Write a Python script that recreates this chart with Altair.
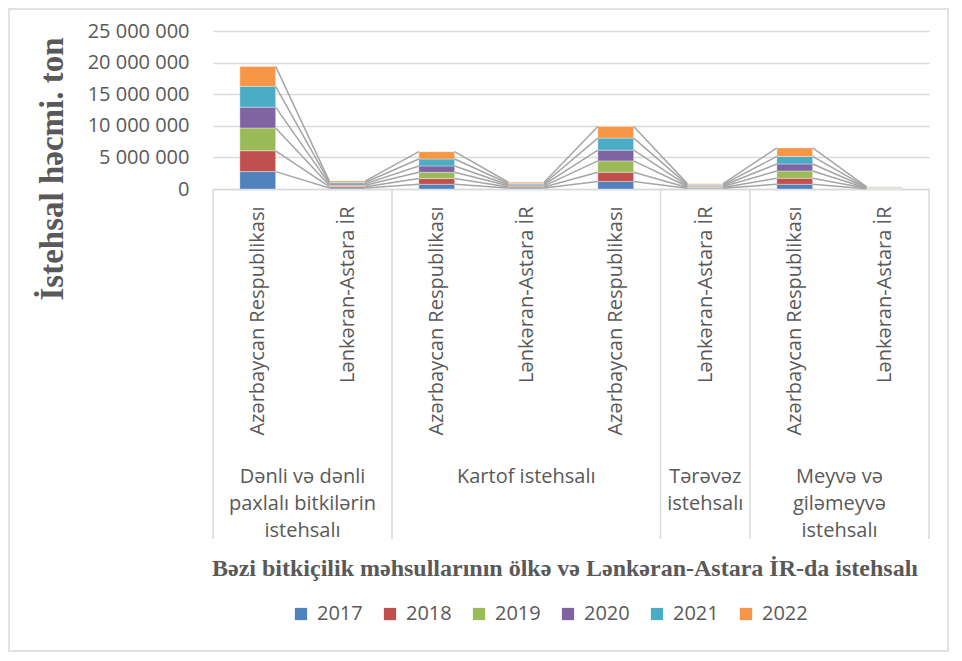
import json
import altair as alt
import pandas as pd

# ---------------- data ----------------
categories = [
    "Azərbaycan Respublikası", "Lənkəran-Astara İR",
    "Azərbaycan Respublikası", "Lənkəran-Astara İR", "Azərbaycan Respublikası",
    "Lənkəran-Astara İR",
    "Azərbaycan Respublikası", "Lənkəran-Astara İR",
]
group_names = [
    "Dənli və dənli\npaxlalı bitkilərin\nistehsalı",
    "Kartof istehsalı",
    "Tərəvəz\nistehsalı",
    "Meyvə və\ngiləmeyvə\nistehsalı",
]
group_of_cat = [0, 0, 1, 1, 1, 2, 3, 3]
years = ["2017", "2018", "2019", "2020", "2021", "2022"]

v2017 = [2750000, 170000, 750000, 150000, 1200000, 120000, 750000, 50000]
v2018 = [3300000, 200000, 900000, 170000, 1450000, 130000, 950000, 60000]
v2019 = [3600000, 220000, 1000000, 180000, 1800000, 150000, 1150000, 60000]
v2020 = [3300000, 220000, 1000000, 180000, 1700000, 150000, 1100000, 60000]
v2021 = [3300000, 220000, 1100000, 190000, 1900000, 150000, 1200000, 70000]
v2022 = [3150000, 220000, 1150000, 200000, 1850000, 150000, 1350000, 70000]
series = [v2017, v2018, v2019, v2020, v2021, v2022]

colors = ["#4F81BD", "#C0504D", "#9BBB59", "#8064A2", "#4BACC6", "#F79646"]
y_ticks = [0, 5000000, 10000000, 15000000, 20000000, 25000000]

TEXT = "#595959"
GRID = "#D9D9D9"
W, H = 716, 158
HALF = 0.2  # half bar width in category units

# ---------------- tables ----------------
rows = []
for i in range(len(categories)):
    cum = 0
    for k, y in enumerate(years):
        v = series[k][i]
        rows.append({"idx": i, "year": y, "order": k, "y0": cum, "y1": cum + v})
        cum += v
bars = pd.DataFrame(rows)

lines = []
for i in range(len(categories) - 1):
    for k, y in enumerate(years):
        a = bars[(bars.idx == i) & (bars.year == y)].y1.iloc[0]
        b = bars[(bars.idx == i + 1) & (bars.year == y)].y1.iloc[0]
        lines.append({"i": i, "j": i + 1, "year": y, "ya": a, "yb": b})
lines = pd.DataFrame(lines)

groups = []
for g, name in enumerate(group_names):
    members = [i for i, gg in enumerate(group_of_cat) if gg == g]
    groups.append({"name": name, "cx": sum(members) / len(members)})
groups = pd.DataFrame(groups)

bounds = [-0.5]
for i in range(1, len(categories)):
    if group_of_cat[i] != group_of_cat[i - 1]:
        bounds.append(i - 0.5)
bounds.append(len(categories) - 0.5)
bounds = pd.DataFrame({"b": bounds})

xscale = alt.Scale(domain=[-0.5, len(categories) - 0.5], nice=False, zero=False)
yscale = alt.Scale(domain=[0, 25000000], nice=False)

label_expr = json.dumps(categories, ensure_ascii=False) + "[datum.value]"

x_axis = alt.Axis(
    values=list(range(len(categories))), labelExpr=label_expr, labelAngle=-90,
    labelAlign="right", labelBaseline="middle", labelPadding=17, labelLimit=400,
    labelOverlap=False, labelFont="Open Sans", labelFontSize=20, labelColor=TEXT,
    ticks=False, grid=False, domain=True, domainColor=GRID, domainWidth=1.5, title=None,
)
y_axis = alt.Axis(
    values=y_ticks, labelExpr="replace(format(datum.value, ','), regexp(',', 'g'), ' ')",
    labelPadding=24, labelFont="Open Sans", labelFontSize=20, labelColor=TEXT,
    labelOverlap=False, labelFlush=False,
    ticks=False, domain=False, grid=True, gridColor=GRID, gridWidth=1.5, title=None,
)

bar_layer = alt.Chart(bars).transform_calculate(
    xa=f"datum.idx - {HALF}", xb=f"datum.idx + {HALF}"
).mark_bar(stroke="white", strokeWidth=0.5, strokeOpacity=0.7).encode(
    x=alt.X("xa:Q", scale=xscale, axis=x_axis),
    x2="xb:Q",
    y=alt.Y("y0:Q", scale=yscale, axis=y_axis),
    y2="y1:Q",
    color=alt.Color(
        "year:N", scale=alt.Scale(domain=years, range=colors), title=None,
        legend=alt.Legend(
            orient="none", legendX=78, legendY=573, direction="horizontal",
            symbolType="square", symbolSize=150, symbolStrokeWidth=0,
            labelFont="Open Sans", labelFontSize=20, labelColor=TEXT,
            labelOffset=6, columnPadding=17,
        ),
    ),
    order="order:Q",
)

line_layer = alt.Chart(lines).transform_calculate(
    xa=f"datum.i + {HALF}", xb=f"datum.j - {HALF}"
).mark_rule(color="#A5A5A5", strokeWidth=1.5).encode(
    x=alt.X("xa:Q", scale=xscale, axis=x_axis),
    x2="xb:Q",
    y=alt.Y("ya:Q", scale=yscale, axis=y_axis),
    y2="yb:Q",
)

divider_layer = alt.Chart(bounds).mark_rule(color=GRID, strokeWidth=1.5).encode(
    x=alt.X("b:Q", scale=xscale, axis=x_axis),
    y=alt.value(H),
    y2=alt.value(H + 350),
)

group_layer = alt.Chart(groups).mark_text(
    font="Open Sans", fontSize=20, color=TEXT, align="center", baseline="top",
    lineBreak="\n", lineHeight=27,
).encode(
    x=alt.X("cx:Q", scale=xscale, axis=x_axis),
    y=alt.value(H + 278),
    text="name:N",
)

title_df = pd.DataFrame({"t": ["İstehsal həcmi. ton"]})
ytitle = alt.Chart(title_df).mark_text(
    font="Liberation Serif", fontWeight="bold", fontSize=33, color=TEXT,
    angle=270, align="center", baseline="middle",
).encode(x=alt.value(-160), y=alt.value(138), text="t:N")

xtitle_df = pd.DataFrame({"t": ["Bəzi bitkiçilik məhsullarının ölkə və Lənkəran-Astara İR-da istehsalı"]})
xtitle = alt.Chart(xtitle_df).mark_text(
    font="Liberation Serif", fontWeight="bold", fontSize=24, color=TEXT,
    align="center", baseline="middle",
).encode(x=alt.value(352), y=alt.value(538), text="t:N")

frame_df = pd.DataFrame({"f": [1]})
frame = alt.Chart(frame_df).mark_rect(fill="transparent", stroke=GRID, strokeWidth=1.5).encode(
    x=alt.value(-204), x2=alt.value(W + 19), y=alt.value(-22), y2=alt.value(H + 462),
)

chart = alt.layer(
    frame, bar_layer, line_layer, divider_layer, group_layer, ytitle, xtitle
).properties(
    width=W, height=H,
    padding={"left": 205, "top": 23, "right": 20, "bottom": 464},
    autosize=alt.AutoSizeParams(type="none"),
).configure_view(stroke=None)

chart.save("out.html", embed_options={"renderer": "svg", "actions": False})
